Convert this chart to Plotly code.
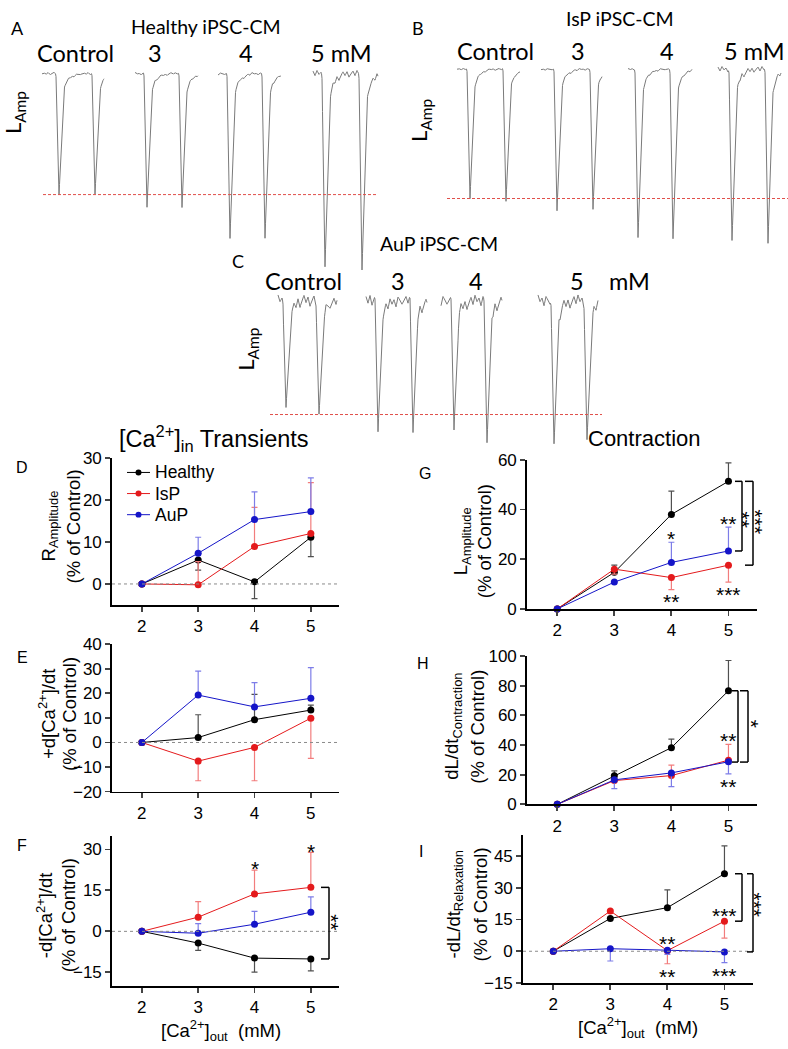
import numpy as np
import plotly.graph_objects as go

W, H = 788, 1049

# ---------------- data: summary panels (% of control) ----------------
conc = [2, 3, 4, 5]
x_tick_labels = ["2", "3", "4", "5"]

# D  R_Amplitude
d_healthy = [0, 5.7, 0.5, 11.1]
d_healthy_down = [None, 2.4, 4.0, 4.6]
d_isp = [0, -0.2, 8.9, 12.0]
d_isp_up = [None, 5.5, 9.3, 12.1]
d_aup = [0, 7.3, 15.3, 17.2]
d_aup_up = [None, 3.8, 6.6, 8.0]

# E  +d[Ca]/dt
e_healthy = [0, 2.0, 9.3, 13.2]
e_healthy_up = [None, 9.3, 10.3, 2.0]
e_isp = [0, -7.6, -2.0, 9.9]
e_isp_down = [None, 8.0, 13.6, 16.4]
e_aup = [0, 19.3, 14.5, 18.0]
e_aup_up = [None, 9.8, 9.9, 12.5]

# F  -d[Ca]/dt
f_healthy = [0, -4.3, -9.8, -10.1]
f_healthy_down = [None, 2.7, 5.1, 4.4]
f_isp = [0, 5.2, 13.7, 16.1]
f_isp_up = [None, 5.7, 8.7, 12.8]
f_aup = [0, -0.7, 2.6, 7.0]
f_aup_up = [None, 3.5, 4.7, 5.6]

# G  L_Amplitude
g_healthy = [0, 14.7, 38.0, 51.3]
g_healthy_up = [None, 2.9, 9.4, 7.4]
g_isp = [0, 16.0, 12.6, 17.6]
g_isp_down = [None, 2.0, 4.8, 6.8]
g_aup = [0, 10.8, 18.7, 23.3]
g_aup_up = [None, None, 8.1, 9.6]

# H  dL/dt contraction
h_healthy = [0, 19.2, 38.2, 76.6]
h_healthy_up = [None, 3.3, 5.8, 20.4]
h_isp = [0, 16.0, 19.4, 29.8]
h_isp_up = [None, None, 7.1, 10.6]
h_aup = [0, 16.5, 21.2, 28.7]
h_aup_down = [None, 5.9, 9.3, 8.2]

# I  -dL/dt relaxation
i_healthy = [0, 15.5, 20.6, 36.6]
i_healthy_up = [None, None, 8.4, 13.2]
i_isp = [0, 19.0, 0.3, 14.2]
i_isp_down = [None, 1.0, 6.2, 8.0]
i_aup = [0, 1.2, 0.5, -0.3]
i_aup_down = [None, 5.8, 2.0, 5.1]

# ---------------- data: representative length traces ----------------
# per condition: [segment start, beat 1, beat 2, segment end] (time, a.u.)
# and beat depth (% of control amplitude)
A_times = [[0, 17, 53, 62], [93, 105, 140, 156], [176, 188, 223, 239], [271, 283, 320, 336]]
A_depths = [[100, 100], [109.8, 110.6], [135.8, 135.8], [161.8, 161.8]]
A_noise = [1.0, 1.0, 1.0, 2.5]
B_times = [[10, 23, 59, 73], [94, 110, 146, 155], [181, 191, 226, 245], [271, 285, 321, 334]]
B_depths = [[100, 102.3], [109.1, 108.4], [131.2, 131.2], [132.7, 132.7]]
B_noise = [0.8, 0.8, 0.8, 2.0]
C_times = [[13, 21, 54, 72], [101, 113, 148, 162], [176, 189, 222, 237], [273, 289, 322, 333]]
C_depths = [[97.4, 101.7], [113.8, 114.7], [114.7, 121.6], [129.3, 124.1]]
C_noise = [4.5, 4.5, 4.5, 4.5]

# beat waveform template (time offset from peak, fraction of depth) and wiggle pattern
SHAPE_T = [-3.5, -3, 0, 2.5, 5, 7, 10, 15, 22]
SHAPE_F = [0, 0.02, 1, 0.55, 0.13, 0.07, 0.04, 0.015, 0]
WIGGLE = [0.0, 0.8, -0.5, 1.0, -0.9, 0.4, 1.2, -0.3, 0.7, -1.1, 0.2, 0.9, -0.6, 1.1, -0.2, 0.5, -1.0, 0.8, 0.1, -0.7]

FONT = "Arial, Liberation Sans, sans-serif"
TFONT = "Lato, Open Sans, sans-serif"
COL = {"Healthy": "#000000", "IsP": "#e41a1c", "AuP": "#1515c8"}
ECOL = {"Healthy": "#505050", "IsP": "#f27d7d", "AuP": "#7d7de8"}

fig = go.Figure()
annotations = []
shapes = []


def px(x):
    return x / W


def py(y):
    return 1 - y / H


def err(up, down):
    n = len(conc)
    up = up if up is not None else [None] * n
    down = down if down is not None else [None] * n
    a = [np.nan if u is None and d is None else (u or 0) for u, d in zip(up, down)]
    am = [np.nan if u is None and d is None else (d or 0) for u, d in zip(up, down)]
    return dict(type="data", array=a, arrayminus=am, symmetric=False,
                thickness=1.2, width=3)


panels = [
    dict(letter="D", n="", xpx=(112, 339), ypx=(457, 607), yr=(-5, 30), yt=[0, 10, 20, 30], zero=True,
         series=[("Healthy", d_healthy, None, d_healthy_down), ("IsP", d_isp, d_isp_up, None),
                 ("AuP", d_aup, d_aup_up, None)],
         t1="R<sub>Amplitude</sub>", t1x=50, t2x=73, tyc=527, lx=22, ly=467),
    dict(letter="E", n="2", xpx=(112, 339), ypx=(647, 797), yr=(-20, 40), yt=[-20, -10, 0, 10, 20, 30, 40], zero=True,
         series=[("Healthy", e_healthy, e_healthy_up, None), ("IsP", e_isp, None, e_isp_down),
                 ("AuP", e_aup, e_aup_up, None)],
         t1="+d[Ca<sup>2+</sup>]/dt", t1x=47, t2x=70, tyc=718, lx=22, ly=660),
    dict(letter="F", n="3", xpx=(112, 339), ypx=(842, 995), yr=(-20, 35), yt=[-15, 0, 15, 30], zero=True,
         series=[("Healthy", f_healthy, None, f_healthy_down), ("IsP", f_isp, f_isp_up, None),
                 ("AuP", f_aup, f_aup_up, None)],
         t1="-d[Ca<sup>2+</sup>]/dt", t1x=45, t2x=68, tyc=923, lx=22, ly=852),
    dict(letter="G", n="4", xpx=(527, 757), ypx=(459, 611), yr=(0, 60), yt=[0, 20, 40, 60], zero=False,
         series=[("Healthy", g_healthy, g_healthy_up, None), ("IsP", g_isp, None, g_isp_down),
                 ("AuP", g_aup, g_aup_up, None)],
         t1="L<sub>Amplitude</sub>", t1x=462, t2x=484, tyc=542, lx=425, ly=473),
    dict(letter="H", n="5", xpx=(527, 757), ypx=(659, 810), yr=(0, 100), yt=[0, 20, 40, 60, 80, 100], zero=False,
         series=[("Healthy", h_healthy, h_healthy_up, None), ("IsP", h_isp, h_isp_up, None),
                 ("AuP", h_aup, None, h_aup_down)],
         t1="dL/dt<sub>Contraction</sub>", t1x=453, t2x=478, tyc=731, lx=423, ly=667),
    dict(letter="I", n="6", xpx=(523, 753), ypx=(841, 992), yr=(-15, 55), yt=[-15, 0, 15, 30, 45], zero=True,
         series=[("Healthy", i_healthy, i_healthy_up, None), ("IsP", i_isp, None, i_isp_down),
                 ("AuP", i_aup, None, i_aup_down)],
         t1="-dL/dt<sub>Relaxation</sub>", t1x=455, t2x=480, tyc=912, lx=421, ly=858),
]

XR = (1.47, 5.5)


def ymap(p, v):
    y0, y1 = p["yr"]
    top, bot = p["ypx"]
    return top + (y1 - v) / (y1 - y0) * (bot - top)


layout_axes = {}
for p in panels:
    n = p["n"]
    xa, ya = "x" + n, "y" + n
    layout_axes["xaxis" + n] = dict(
        domain=[px(p["xpx"][0]), px(p["xpx"][1])], range=list(XR), anchor=ya,
        tickvals=conc, ticktext=x_tick_labels, ticks="outside", ticklen=5, tickwidth=1.8,
        showline=True, linewidth=1.8, linecolor="black", showgrid=False, zeroline=False,
        tickfont=dict(family=FONT, size=17, color="black"), fixedrange=True)
    layout_axes["yaxis" + n] = dict(
        domain=[py(p["ypx"][1]), py(p["ypx"][0])], range=list(p["yr"]), anchor=xa,
        tickvals=p["yt"], ticks="outside", ticklen=5, tickwidth=1.8,
        showline=True, linewidth=1.8, linecolor="black", showgrid=False, zeroline=False,
        tickfont=dict(family=FONT, size=17, color="black"), fixedrange=True)
    if p["zero"]:
        shapes.append(dict(type="line", xref="paper", yref="paper",
                           x0=px(p["xpx"][0]), x1=px(p["xpx"][1]),
                           y0=py(ymap(p, 0)), y1=py(ymap(p, 0)),
                           line=dict(color="#8a8a8a", width=1, dash="dot")))
    for name, vals, up, down in p["series"]:
        fig.add_trace(go.Scatter(
            x=conc, y=vals, xaxis=xa, yaxis=ya, mode="lines+markers",
            line=dict(color=COL[name], width=1),
            marker=dict(color=COL[name], size=7),
            error_y=dict(**err(up, down), color=ECOL[name]),
            showlegend=False, cliponaxis=False))
    annotations.append(dict(x=px(p["t1x"]), y=py(p["tyc"]), xref="paper", yref="paper",
                            text=p["t1"], textangle=-90, showarrow=False,
                            font=dict(family=FONT, size=18.5, color="black"),
                            xanchor="center", yanchor="middle"))
    annotations.append(dict(x=px(p["t2x"]), y=py(p["tyc"]), xref="paper", yref="paper",
                            text="(% of Control)", textangle=-90, showarrow=False,
                            font=dict(family=FONT, size=18.5, color="black"),
                            xanchor="center", yanchor="middle"))
    annotations.append(dict(x=px(p["lx"]), y=py(p["ly"]), xref="paper", yref="paper",
                            text=p["letter"], showarrow=False,
                            font=dict(family=FONT, size=16, color="black"),
                            xanchor="center", yanchor="middle"))

PD, PE, PF, PG, PH, PI = panels

# section titles and x titles
for txt, x, y, s in [("[Ca<sup>2+</sup>]<sub>in</sub> Transients", 214, 437, 23.5), ("Contraction", 644, 437, 22)]:
    annotations.append(dict(x=px(x), y=py(y), xref="paper", yref="paper", text=txt, showarrow=False,
                            font=dict(family=FONT, size=s, color="black"), xanchor="center", yanchor="middle"))
for x, y in [(221, 1040), (638, 1037)]:
    annotations.append(dict(x=px(x), y=py(y), xref="paper", yref="paper",
                            text="[Ca<sup>2+</sup>]<sub>out</sub>  (mM)", showarrow=False,
                            font=dict(family=FONT, size=18.5, color="black"), xanchor="center", yanchor="middle"))

# legend in D (custom)
for k, name in enumerate(["Healthy", "IsP", "AuP"]):
    yy = 472 + k * 21.5
    shapes.append(dict(type="line", xref="paper", yref="paper", x0=px(127), x1=px(150),
                       y0=py(yy), y1=py(yy), line=dict(color=COL[name], width=1)))
    shapes.append(dict(type="circle", xref="paper", yref="paper", x0=px(135.5), x1=px(141.5),
                       y0=py(yy - 3), y1=py(yy + 3), fillcolor=COL[name], line=dict(width=0)))
    annotations.append(dict(x=px(153), y=py(yy), xref="paper", yref="paper", text=name, showarrow=False,
                            font=dict(family=FONT, size=17.5, color="black"), xanchor="left", yanchor="middle"))


def star(p, xval, ypix, text, angle=0, xpix=None):
    n = p["n"]
    if xpix is None:
        annotations.append(dict(x=xval, y=py(ypix + 5), xref="x" + n, yref="paper", text=text,
                                showarrow=False, font=dict(family=FONT, size=21, color="black"),
                                xanchor="center", yanchor="middle"))
    else:
        annotations.append(dict(x=px(xpix - 5), y=py(ypix), xref="paper", yref="paper", text=text,
                                textangle=angle, showarrow=False,
                                font=dict(family=FONT, size=21, color="black"),
                                xanchor="center", yanchor="middle"))


def bracket(p, x0, x1, vtop, vbot):
    yt, yb = ymap(p, vtop), ymap(p, vbot)
    ln = dict(color="black", width=1.5)
    shapes.append(dict(type="line", xref="paper", yref="paper", x0=px(x0), x1=px(x1), y0=py(yt), y1=py(yt), line=ln))
    shapes.append(dict(type="line", xref="paper", yref="paper", x0=px(x1), x1=px(x1), y0=py(yt), y1=py(yb), line=ln))
    shapes.append(dict(type="line", xref="paper", yref="paper", x0=px(x0), x1=px(x1), y0=py(yb), y1=py(yb), line=ln))


# F
star(PF, 4, 870, "*")
star(PF, 5, 853, "*")
bracket(PF, 321, 329, f_isp[3], f_healthy[3])
star(PF, None, 930, "**", 90, 337)
# G
star(PG, 4, 534, "*")
star(PG, 4, 598, "**")
star(PG, 5, 519, "**")
star(PG, 5, 591, "***")
bracket(PG, 735, 742, g_healthy[3], g_aup[3])
star(PG, None, 520, "**", 90, 747)
bracket(PG, 745, 753, g_healthy[3], g_isp[3])
star(PG, None, 522, "***", 90, 760)
# H
star(PH, 5, 740, "**")
star(PH, 5, 787, "**")
bracket(PH, 732, 738, h_healthy[3], h_aup[3] - 0.2)
bracket(PH, 740, 748, h_healthy[3], h_aup[3] - 0.2)
star(PH, None, 728, "*", 90, 756)
# I
star(PI, 4, 947, "**")
star(PI, 4, 980, "**")
star(PI, 5, 918, "***")
star(PI, 5, 979, "***")
bracket(PI, 735, 742, i_healthy[3], i_isp[3])
bracket(PI, 747, 753, i_healthy[3], i_aup[3])
star(PI, None, 912, "***", 90, 760)

# ---------------- representative traces (A, B, C) ----------------
trace_panels = [
    dict(n="7", times=A_times, depths=A_depths, noise=A_noise, xpx=(42, 382), ypx=(48, 275), base=66, ctrl=189,
         red=(1, 334)),
    dict(n="8", times=B_times, depths=B_depths, noise=B_noise, xpx=(447, 788), ypx=(45, 250), base=61.5, ctrl=193,
         red=(0, 341)),
    dict(n="9", times=C_times, depths=C_depths, noise=C_noise, xpx=(265, 610), ypx=(283, 455), base=297, ctrl=413,
         red=(5, 337)),
]


def beat_trace(seg, depths, amp):
    t0, b1, b2, t1 = seg
    ts = np.union1d(np.arange(t0, t1 + 0.001, 0.5), [b1, b2])
    v = np.zeros_like(ts, dtype=float)
    for b, a in zip((b1, b2), depths):
        v -= a * np.interp(ts - b, SHAPE_T, SHAPE_F, left=0, right=0)
    nt = t0 + 2.0 * np.arange(int((t1 - t0) / 2) + 2)
    nv = np.array([WIGGLE[(k + int(t0)) % len(WIGGLE)] for k in range(len(nt))]) * amp
    v += np.interp(ts, nt, nv)
    return ts, v


for tp in trace_panels:
    n = tp["n"]
    k = (tp["ctrl"] - tp["base"]) / 100.0  # px per % unit
    top, bot = tp["ypx"]
    yr = [-(bot - tp["base"]) / k, (tp["base"] - top) / k]
    xr = [0, tp["xpx"][1] - tp["xpx"][0]]
    layout_axes["xaxis" + n] = dict(domain=[px(tp["xpx"][0]), px(tp["xpx"][1])], range=xr, visible=False,
                                    anchor="y" + n, fixedrange=True)
    layout_axes["yaxis" + n] = dict(domain=[py(bot), py(top)], range=yr, visible=False,
                                    anchor="x" + n, fixedrange=True)
    for seg, dep, amp in zip(tp["times"], tp["depths"], tp["noise"]):
        ts, v = beat_trace(seg, dep, amp)
        fig.add_trace(go.Scatter(x=ts, y=v, xaxis="x" + n, yaxis="y" + n, mode="lines",
                                 line=dict(color="#7a7a7a", width=1), showlegend=False, hoverinfo="skip"))
    fig.add_trace(go.Scatter(x=list(tp["red"]), y=[-100, -100], xaxis="x" + n, yaxis="y" + n, mode="lines",
                             line=dict(color="#e0504a", width=1, dash="3px,2px"), showlegend=False,
                             hoverinfo="skip"))


def ttext(txt, x, y, size, angle=0, anchor="center"):
    annotations.append(dict(x=px(x), y=py(y), xref="paper", yref="paper", text=txt, showarrow=False,
                            textangle=angle, font=dict(family=TFONT, size=size, color="black"),
                            xanchor=anchor, yanchor="middle"))


ttext("A", 17, 19, 18)
ttext("Healthy iPSC-CM", 206, 18, 19.5)
for txt, x in zip(["Control", "3", "4", "5 mM"], [75, 155, 246, 341]):
    ttext(txt, x, 45, 23.5)
ttext("L<sub>Amp</sub>", 14, 106, 22, -90)

ttext("B", 418, 19, 18)
ttext("IsP iPSC-CM", 620, 10, 19.5)
for txt, x in zip(["Control", "3", "4"], [495, 578, 667]):
    ttext(txt, x, 43, 23.5)
ttext("5 mM", 787, 43, 23.5, anchor="right")
ttext("L<sub>Amp</sub>", 420, 114, 22, -90)

ttext("C", 238, 257, 18)
ttext("AuP iPSC-CM", 439, 239, 19.5)
for txt, x in zip(["Control", "3", "4", "5", "mM"], [303, 398, 476, 577, 629]):
    ttext(txt, x, 277, 23.5)
ttext("L<sub>Amp</sub>", 247, 347, 22, -90)

fig.update_layout(
    width=W, height=H, margin=dict(l=0, r=0, t=0, b=0),
    paper_bgcolor="white", plot_bgcolor="white",
    showlegend=False, annotations=annotations, shapes=shapes,
    font=dict(family=FONT, color="black"),
    **layout_axes,
)

fig.write_html("out.html", config={"displayModeBar": False, "staticPlot": True}, post_script=(
    "document.body.style.margin='0';document.body.style.padding='0';"
    "document.body.style.overflow='hidden';document.documentElement.style.overflow='hidden';"))
